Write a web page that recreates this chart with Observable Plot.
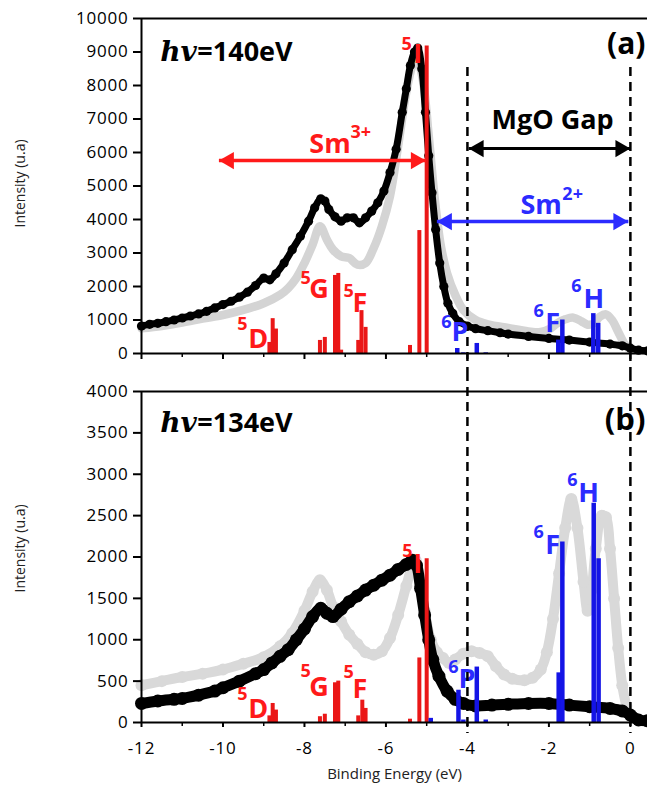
<!DOCTYPE html>
<html>
<head>
<meta charset="utf-8">
<script src="https://cdn.jsdelivr.net/npm/d3@7"></script>
<script src="https://cdn.jsdelivr.net/npm/@observablehq/plot@0.6"></script>
<style>
  html, body { margin: 0; padding: 0; background: #fff; }
  #chart svg { display: block; }
  [aria-label="y-axis tick label"] text, [aria-label="x-axis tick label"] text { letter-spacing: 0.8px; }
</style>
</head>
<body>
<div id="chart"></div>
<script>
// ---------- DATA (binding energy in eV, intensity in u.a) ----------
// Panel (a): hv = 140 eV
const topBlack = [[-12,820],[-11.8,870],[-11.6,900],[-11.4,950],[-11.2,1000],[-11,1060],[-10.8,1120],[-10.6,1180],[-10.4,1260],[-10.2,1360],[-10,1460],[-9.8,1560],[-9.6,1680],[-9.4,1830],[-9.2,2030],[-9,2250],[-8.85,2200],[-8.7,2380],[-8.5,2700],[-8.3,3100],[-8.1,3500],[-7.9,3950],[-7.75,4350],[-7.6,4620],[-7.5,4550],[-7.4,4300],[-7.25,4080],[-7.1,3950],[-6.95,4050],[-6.8,4050],[-6.65,3900],[-6.5,4050],[-6.35,4250],[-6.2,4500],[-6.05,4850],[-5.9,5400],[-5.75,6100],[-5.6,7200],[-5.5,7900],[-5.4,8600],[-5.3,9000],[-5.22,9120],[-5.12,8500],[-5.03,7200],[-4.95,5900],[-4.87,4800],[-4.78,3700],[-4.68,2700],[-4.58,2000],[-4.48,1500],[-4.36,1200],[-4.2,950],[-4,820],[-3.8,740],[-3.5,680],[-3.2,620],[-3,580],[-2.5,510],[-2,450],[-1.5,400],[-1,340],[-0.5,280],[-0.2,230],[0,160],[0.2,100],[0.42,80]];
const topGray = [[-12,750],[-11.5,820],[-11,920],[-10.5,1040],[-10,1150],[-9.5,1300],[-9,1500],[-8.6,1750],[-8.4,1950],[-8.2,2250],[-8,2700],[-7.8,3250],[-7.62,3800],[-7.45,3400],[-7.3,3100],[-7.1,2900],[-6.9,2850],[-6.7,2650],[-6.5,2700],[-6.3,3150],[-6.1,3800],[-5.9,4700],[-5.7,6200],[-5.5,7800],[-5.35,8600],[-5.25,8850],[-5.1,8200],[-4.95,6500],[-4.8,4600],[-4.65,3200],[-4.5,2400],[-4.3,1750],[-4.1,1300],[-3.8,1000],[-3.5,870],[-3,760],[-2.5,660],[-2.2,640],[-2,720],[-1.8,900],[-1.6,1020],[-1.4,1070],[-1.2,960],[-1.05,860],[-0.9,900],[-0.75,1100],[-0.6,1170],[-0.45,1000],[-0.3,650],[-0.15,300],[-0.05,150]];
const topSm3Bars = [[-8.86,330],[-8.78,1040],[-8.70,730],[-7.62,390],[-7.50,480],[-7.25,2330],[-7.17,2390],[-7.10,100],[-6.68,390],[-6.60,1280],[-6.50,780],[-5.41,240],[-5.18,3670],[-5.00,9180]];
const topSm2Bars = [[-4.25,150],[-4.10,20],[-3.77,300],[-3.55,20],[-1.77,400],[-1.67,1000],[-0.91,1190],[-0.79,900]];

// Panel (b): hv = 134 eV
const botBlack = [[-12,230],[-11.6,260],[-11.2,280],[-11,290],[-10.6,330],[-10.2,380],[-10,420],[-9.6,500],[-9.2,590],[-9,640],[-8.8,720],[-8.6,800],[-8.4,880],[-8.2,1000],[-8,1130],[-7.8,1280],[-7.6,1380],[-7.45,1320],[-7.3,1280],[-7.1,1370],[-6.9,1460],[-6.7,1530],[-6.5,1600],[-6.3,1660],[-6.1,1720],[-5.9,1780],[-5.7,1850],[-5.5,1910],[-5.35,1960],[-5.25,1900],[-5.15,1620],[-5.05,1300],[-4.95,1000],[-4.85,760],[-4.7,560],[-4.5,380],[-4.3,280],[-4.1,230],[-3.8,200],[-3.4,210],[-3,220],[-2.5,230],[-2,230],[-1.5,210],[-1,190],[-0.5,170],[-0.2,140],[0,90],[0.2,30],[0.42,20]];
const botGray = [[-12,450],[-11.5,500],[-11,550],[-10.5,590],[-10,640],[-9.5,710],[-9,790],[-8.6,920],[-8.3,1080],[-8,1350],[-7.8,1580],[-7.62,1720],[-7.45,1600],[-7.3,1400],[-7.1,1220],[-6.9,1060],[-6.7,950],[-6.5,850],[-6.3,820],[-6.1,860],[-5.9,1020],[-5.7,1300],[-5.5,1650],[-5.35,1900],[-5.27,1960],[-5.15,1700],[-5.05,1350],[-4.9,1000],[-4.75,850],[-4.6,780],[-4.45,720],[-4.3,760],[-4.1,830],[-3.9,860],[-3.7,840],[-3.5,800],[-3.3,680],[-3.1,580],[-2.9,530],[-2.6,510],[-2.4,540],[-2.2,640],[-2.05,850],[-1.9,1250],[-1.75,1800],[-1.6,2350],[-1.45,2700],[-1.3,2350],[-1.15,1700],[-1.05,1350],[-0.95,1600],[-0.85,2100],[-0.7,2500],[-0.6,2480],[-0.5,2100],[-0.4,1500],[-0.3,900],[-0.2,450],[-0.1,200]];
const botSm3Bars = [[-8.86,80],[-8.78,230],[-8.70,150],[-7.62,70],[-7.50,100],[-7.25,480],[-7.17,500],[-6.68,80],[-6.58,270],[-6.50,170],[-5.41,40],[-5.18,780],[-5.00,1980]];
const botSm2Bars = [[-4.90,50],[-4.22,390],[-4.10,30],[-3.77,670],[-3.55,30],[-1.76,600],[-1.67,2180],[-0.90,2650],[-0.78,1980]];

// Axis ticks
const xMajor = [-12,-10,-8,-6,-4,-2,0];
const xMinor = [-11,-9,-7,-5,-3,-1];
const yTicksTop = [0,1000,2000,3000,4000,5000,6000,7000,8000,9000,10000];
const yTicksBot = [0,500,1000,1500,2000,2500,3000,3500,4000];
const gapEdges = [-4, 0];

// Annotations: [text, energy, intensity]
const termsRedTop = [["D",-9.38,179],["G",-7.88,1642],["F",-6.82,1224],["I",-5.33,8657]];
const supRedTop = [["5",-9.65,687],["5",-8.10,2060],["5",-7.04,1672],["5",-5.62,9045]];
const termsBlueTop = [["P",-4.39,388],["F",-2.09,627],["H",-1.15,1373]];
const supBlueTop = [["6",-4.64,776],["6",-2.38,1075],["6",-1.45,1821]];
const termsRedBot = [["D",-9.38,60],["G",-7.88,326],["F",-6.82,302],["I",-5.33,1801]];
const supRedBot = [["5",-9.65,266],["5",-8.10,544],["5",-7.04,532],["5",-5.60,1994]];
const termsBlueBot = [["P",-4.22,411],["F",-2.09,2042],["H",-1.28,2659]];
const supBlueBot = [["6",-4.47,604],["6",-2.38,2224],["6",-1.55,2864]];

const RED = "#ff1a1a", RED_BAR = "#ea1717", BLUE = "#2b2bff", BLUE_BAR = "#1414e6";
const GRAY = "#d4d4d4";
const xDomain = [-12, 0.42];
const px = d => d[0], py = d => d[1], pt = d => d[0], pe = d => d[1], pv = d => d[2];

function labelMarks(terms, sups, color) {
  return [
    Plot.text(terms, {text: pt, x: pe, y: pv, fill: color, fontSize: 27, fontWeight: "bold", textAnchor: "start", lineAnchor: "bottom"}),
    Plot.text(sups, {text: pt, x: pe, y: pv, fill: color, fontSize: 18, fontWeight: "bold", textAnchor: "start", lineAnchor: "bottom"})
  ];
}
function arrowMarks(a, color, w) {
  return [
    Plot.link([a], {x1: d => d[0], x2: d => d[1], y1: d => d[2], y2: d => d[2], stroke: color, strokeWidth: w}),
    Plot.dot([a], {x: d => d[0], y: d => d[2], symbol: "triangle", r: 6.4, fill: color, rotate: -90, dx: 10}),
    Plot.dot([a], {x: d => d[1], y: d => d[2], symbol: "triangle", r: 6.4, fill: color, rotate: 90, dx: -10})
  ];
}
const baseStyle = {fontFamily: "'Open Sans', sans-serif", fontSize: "17px", color: "black", background: "transparent", overflow: "visible"};

// Arrows: [start energy, end energy, intensity]
const arrowSm3 = [-10.1, -5.02, 5761];
const arrowGap = [-3.97, 0, 6119];
const arrowSm2 = [-4.75, -0.05, 3940];

const topPlot = Plot.plot({
  width: 647, height: 372,
  marginLeft: 141, marginRight: 0, marginTop: 18, marginBottom: 19,
  x: {domain: xDomain}, y: {domain: [0, 10000]},
  style: baseStyle,
  marks: [
    Plot.line(topGray, {x: px, y: py, stroke: GRAY, strokeWidth: 8.5, curve: "catmull-rom"}),
    Plot.line(topBlack, {x: px, y: py, stroke: "black", strokeWidth: 7, curve: "catmull-rom"}),
    Plot.dot(topBlack, {x: px, y: py, r: 4.6, fill: "black"}),
    Plot.ruleX(topSm3Bars, {x: px, y1: 0, y2: py, stroke: RED_BAR, strokeWidth: 4}),
    Plot.ruleX(topSm2Bars, {x: px, y1: 0, y2: py, stroke: BLUE_BAR, strokeWidth: 4.5}),
    Plot.ruleX(gapEdges, {y1: 8537, y2: -570, stroke: "black", strokeWidth: 2.5, strokeDasharray: "9,6"}),
    ...labelMarks(termsRedTop, supRedTop, RED),
    ...labelMarks(termsBlueTop, supBlueTop, BLUE),
    ...arrowMarks(arrowSm3, RED, 3.5),
    ...arrowMarks(arrowGap, "black", 3),
    ...arrowMarks(arrowSm2, BLUE, 3.5),
    Plot.text(["Sm"], {x: -7.88, y: 6000, fill: RED, fontSize: 27, fontWeight: "bold", textAnchor: "start", lineAnchor: "bottom"}),
    Plot.text(["3+"], {x: -6.87, y: 6418, fill: RED, fontSize: 18, fontWeight: "bold", textAnchor: "start", lineAnchor: "bottom"}),
    Plot.text(["Sm"], {x: -2.70, y: 4179, fill: BLUE, fontSize: 27, fontWeight: "bold", textAnchor: "start", lineAnchor: "bottom"}),
    Plot.text(["2+"], {x: -1.67, y: 4597, fill: BLUE, fontSize: 18, fontWeight: "bold", textAnchor: "start", lineAnchor: "bottom"}),
    Plot.text(["MgO Gap"], {x: -1.91, y: 6687, fill: "black", fontSize: 27, fontWeight: "bold", textAnchor: "middle", lineAnchor: "bottom"}),
    Plot.text(["(a)"], {x: 0.37, y: 8955, fill: "black", fontSize: 30, fontWeight: "bold", textAnchor: "end", lineAnchor: "bottom"}),
    Plot.text(["hv"], {x: -11.54, y: 8746, fill: "black", fontSize: 28, fontWeight: "bold", fontStyle: "italic", fontFamily: "DejaVu Serif", textAnchor: "start", lineAnchor: "bottom"}),
    Plot.text(["=140eV"], {x: -10.63, y: 8746, fill: "black", fontSize: 27, fontWeight: "bold", textAnchor: "start", lineAnchor: "bottom"}),
    Plot.text(["Intensity (u.a)"], {x: -14.97, y: 5075, rotate: -90, fill: "#222", fontSize: 14, textAnchor: "middle", lineAnchor: "middle"}),
    Plot.ruleY([0], {stroke: "black", strokeWidth: 2}),
    Plot.ruleY([10000], {stroke: "black", strokeWidth: 2}),
    Plot.ruleX([-12], {stroke: "black", strokeWidth: 2}),
    Plot.axisY({ticks: yTicksTop, tickSize: 8, tickPadding: 5, tickFormat: d => String(d), strokeWidth: 2, label: null}),
    Plot.axisX({ticks: xMajor, tickSize: 6, tickFormat: () => "", strokeWidth: 2, label: null}),
    Plot.axisX({ticks: xMinor, tickSize: 4, tickFormat: () => "", strokeWidth: 1.5, label: null})
  ]
});

const botPlot = Plot.plot({
  width: 647, height: 413,
  marginLeft: 141, marginRight: 0, marginTop: 19, marginBottom: 63,
  x: {domain: xDomain}, y: {domain: [0, 4000]},
  style: baseStyle,
  marks: [
    Plot.line(botGray, {x: px, y: py, stroke: "#d9d9d9", strokeWidth: 10, curve: "catmull-rom"}),
    Plot.dot(botGray, {x: px, y: py, r: 6, fill: "#d9d9d9"}),
    Plot.line(botBlack, {x: px, y: py, stroke: "black", strokeWidth: 11, curve: "catmull-rom"}),
    Plot.dot(botBlack, {x: px, y: py, r: 6.5, fill: "black"}),
    Plot.ruleX(botSm3Bars, {x: px, y1: 0, y2: py, stroke: RED_BAR, strokeWidth: 4}),
    Plot.ruleX(botSm2Bars, {x: px, y1: 0, y2: py, stroke: BLUE_BAR, strokeWidth: 4.5}),
    ...labelMarks(termsRedBot, supRedBot, RED),
    ...labelMarks(termsBlueBot, supBlueBot, BLUE),
    Plot.text(["(b)"], {x: 0.37, y: 3529, fill: "black", fontSize: 31, fontWeight: "bold", textAnchor: "end", lineAnchor: "bottom"}),
    Plot.ruleX(gapEdges, {y1: 4230, y2: -133, stroke: "black", strokeWidth: 2.5, strokeDasharray: "9,6"}),
    Plot.text(["hv"], {x: -11.54, y: 3505, fill: "black", fontSize: 28, fontWeight: "bold", fontStyle: "italic", fontFamily: "DejaVu Serif", textAnchor: "start", lineAnchor: "bottom"}),
    Plot.text(["=134eV"], {x: -10.63, y: 3505, fill: "black", fontSize: 27, fontWeight: "bold", textAnchor: "start", lineAnchor: "bottom"}),
    Plot.text(["Intensity (u.a)"], {x: -14.97, y: 2103, rotate: -90, fill: "#222", fontSize: 14, textAnchor: "middle", lineAnchor: "middle"}),
    Plot.text(["Binding Energy (eV)"], {frameAnchor: "bottom", dy: 56, fill: "#222", fontSize: 15, textAnchor: "middle", lineAnchor: "bottom"}),
    Plot.ruleY([0], {stroke: "black", strokeWidth: 2}),
    Plot.ruleY([4000], {stroke: "black", strokeWidth: 2}),
    Plot.ruleX([-12], {stroke: "black", strokeWidth: 2}),
    Plot.axisY({ticks: yTicksBot, tickSize: 8, tickPadding: 5, tickFormat: d => String(d), strokeWidth: 2, label: null}),
    Plot.axisX({ticks: xMajor, tickSize: 5, tickPadding: 14, tickFormat: d => String(d), strokeWidth: 2, label: null}),
    Plot.axisX({ticks: xMinor, tickSize: 4, tickFormat: () => "", strokeWidth: 1.5, label: null})
  ]
});

const chart = document.getElementById("chart");
chart.appendChild(topPlot);
chart.appendChild(botPlot);
</script>
</body>
</html>
